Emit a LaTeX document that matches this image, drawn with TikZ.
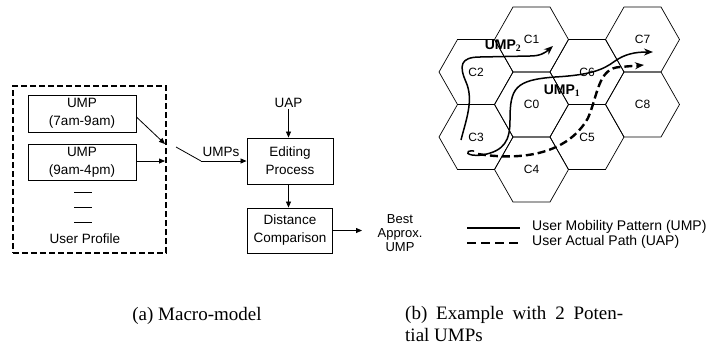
\documentclass[tikz,border=0pt]{standalone}
\usepackage{fontspec}
\setmainfont{Liberation Serif}
\setsansfont{Liberation Sans}
\usetikzlibrary{arrows.meta}

% one hexagonal cell: name, centre x, centre y
\newcommand\hexcell[3]{%
  \draw[hexedge, shift={(#2,#3)}] (37,0) -- (18.5,32.5) -- (-18.5,32.5)
    -- (-37,0) -- (-18.5,-32.5) -- (18.5,-32.5) -- cycle;
  \node[celltext] (#1) at (#2,#3) {#1};
}

\tikzset{
  sfbox/.style={font=\sffamily\fontsize{13.5bp}{18bp}\selectfont},
  blockbox/.style={draw, line width=0.9bp, inner sep=0pt, align=center, sfbox},
  lbl/.style={inner sep=1bp, sfbox},
  arr/.style={line width=0.8bp, -{Triangle[length=6bp,width=5bp]}},
  hexedge/.style={line width=0.7bp},
  celltext/.style={inner sep=0pt, font=\sffamily\fontsize{12bp}{13bp}\selectfont},
  umpline/.style={line width=1.5bp, -{Stealth[length=9bp,width=7bp]}},
  uapline/.style={line width=2.4bp, dash pattern=on 8bp off 4bp, -{Stealth[length=9bp,width=7bp]}},
  legtext/.style={inner sep=0pt, anchor=west, font=\sffamily\fontsize{14bp}{15bp}\selectfont},
  caption/.style={inner sep=0pt, font=\rmfamily\fontsize{19bp}{22bp}\selectfont},
}

\begin{document}
\begin{tikzpicture}[x=1bp, y=-1bp]
\useasboundingbox (0,0) rectangle (710,352);

% ---------- (a) macro-model ----------
\node[draw, line width=1.5bp, dash pattern=on 6bp off 3bp,
      minimum width=153bp, minimum height=167bp, inner sep=0pt] (profile) at (89.5,169.5) {};
\node[blockbox, minimum width=108bp, minimum height=37bp] (ump1) at (82,113.5) {UMP\\(7am-9am)};
\node[blockbox, minimum width=108bp, minimum height=36bp] (ump2) at (82,162) {UMP\\(9am-4pm)};
\foreach \yy in {192,207,222} \draw[line width=0.8bp] (74,\yy) -- (92,\yy);
\node[lbl] (uprof) at (85,239) {User Profile};

\coordinate (in1) at (165,144);
\coordinate (in2) at (165,161);
\draw[arr] ([yshift=-3.5bp]ump1.east) -- (in1);
\draw[arr] (ump2.east |- in2) -- (in2);

\node[blockbox, minimum width=86bp, minimum height=46bp] (edit) at (290,161) {Editing\\Process};
\node[blockbox, minimum width=85bp, minimum height=45bp] (dist) at (290,230.5) {Distance\\Comparison};
\node[lbl] (uap) at (288.5,103) {UAP};
\coordinate (umpsrc) at (176,147);
\coordinate (umpbend) at (201,161);
\draw[line width=0.8bp] (umpsrc) -- (umpbend);
\draw[arr] (umpbend) -- (edit.west);
\node[lbl] (umps) at (221,152) {UMPs};
\draw[arr] (uap.south) -- (uap.south |- edit.north);
\draw[arr] (uap.south |- edit.south) -- (uap.south |- dist.north);
\coordinate (bestin) at (362,230.5);
\draw[arr] (dist.east) -- (bestin);
\node[lbl, align=center, font=\sffamily\fontsize{13bp}{14bp}\selectfont] (best) at (400,233) {Best\\Approx.\\UMP};

% ---------- (b) cell example ----------
\hexcell{C2}{476}{72}
\hexcell{C3}{476}{137}
\hexcell{C1}{531.5}{39.5}
\hexcell{C0}{531.5}{104.5}
\hexcell{C4}{531.5}{169.5}
\hexcell{C6}{587}{72}
\hexcell{C5}{587}{137}
\hexcell{C7}{642.5}{39.5}
\hexcell{C8}{642.5}{104.5}

% potential mobility patterns
\coordinate (p2s) at (461,140);
\coordinate (p2e) at (553,46);
\draw[umpline] (p2s) .. controls (466,120) and (474,100) .. (466,82)
  .. controls (459,66) and (460,57) .. (480,57)
  -- (530,56) .. controls (540,56) and (545,53) .. (p2e);

\coordinate (p1s) at (474,151);
\coordinate (p1e) at (653,52);
\draw[umpline] (p1s) .. controls (463,150) and (466,157) .. (482,155)
  .. controls (505,151) and (510,140) .. (510,120)
  .. controls (510,88) and (515,80) .. (555,77)
  .. controls (590,75) and (603,70) .. (615,61)
  .. controls (625,54) and (635,52) .. (p1e);

% actual path
\coordinate (as) at (478,154);
\coordinate (ae) at (644,65);
\draw[uapline] (as) .. controls (530,162) and (570,150) .. (588,118)
  .. controls (598,95) and (598,68) .. (620,67) -- (ae);

\node[inner sep=0pt, font=\sffamily\bfseries\fontsize{14bp}{15bp}\selectfont] (lab2) at (503,46) {UMP$_{\mathbf 2}$};
\node[inner sep=0pt, font=\sffamily\bfseries\fontsize{14bp}{15bp}\selectfont] (lab1) at (562,91) {UMP$_{\mathbf 1}$};

% legend
\coordinate (l1a) at (467,228); \coordinate (l1b) at (520,228);
\coordinate (l2a) at (467,243); \coordinate (l2b) at (520,243);
\draw[line width=1.2bp] (l1a) -- (l1b);
\draw[line width=2.4bp, dash pattern=on 9bp off 5bp] (l2a) -- (l2b);
\node[legtext] (leg1) at (532,227) {User Mobility Pattern (UMP)};
\node[legtext] (leg2) at (532,242) {User Actual Path (UAP)};

% captions
\node[caption] (capa) at (197,316) {(a) Macro-model};
\node[caption, anchor=north west, text width=218bp, align=justify] (capb) at (405,306)
  {(b) Example with 2 Poten-\linebreak tial UMPs};
\end{tikzpicture}
\end{document}
